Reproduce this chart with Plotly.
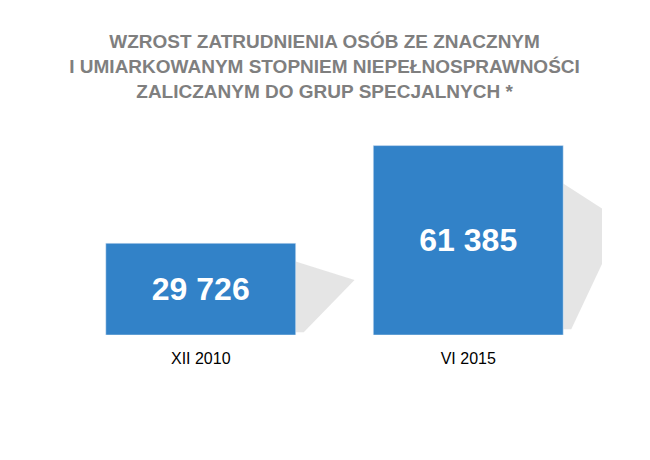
import plotly.graph_objects as go

categories = ["XII 2010", "VI 2015"]
values = [29726, 61385]
labels = ["29 726", "61 385"]

font = "Liberation Sans Narrow, Arial Narrow, Liberation Sans, Arial"
fig = go.Figure(go.Bar(
    x=[0, 1], y=values, width=0.71, marker_color="#3282C8",
    text=labels, textposition="inside", insidetextanchor="middle",
    textfont=dict(color="white", size=32, family=font, weight="bold"), cliponaxis=False))

shapes = []
for i, v in enumerate(values):
    xr = i + 0.355
    path = (f"M {xr},{v*0.03} L {xr},{v*0.8} L {xr+0.22},{v*0.6} "
            f"L {xr+0.03},{v*0.03} Z")
    shapes.append(dict(type="path", path=path, xref="x", yref="y",
                       fillcolor="rgba(170,170,170,0.3)", line_width=0, layer="below"))

fig.update_layout(
    width=650, height=460, margin=dict(l=59, r=56, t=111, b=133),
    plot_bgcolor="white", paper_bgcolor="white", showlegend=False,
    shapes=shapes,
    title=dict(text="WZROST ZATRUDNIENIA OSÓB ZE ZNACZNYM<br>I UMIARKOWANYM STOPNIEM NIEPEŁNOSPRAWNOŚCI<br>ZALICZANYM DO GRUP SPECJALNYCH *",
               x=0.487, xanchor="center", y=0.912, yanchor="top",
               font=dict(family=font, size=19, color="#7F7F7F", weight="bold")),
    xaxis=dict(range=[-0.5, 1.5], tickvals=[0, 1], ticktext=categories,
               showgrid=False, zeroline=False, showline=False, ticks="",
               ticklabelstandoff=12,
               tickfont=dict(family=font, size=16, color="black")),
    yaxis=dict(range=[0, 70000], visible=False),
)
fig.write_html("out.html")
